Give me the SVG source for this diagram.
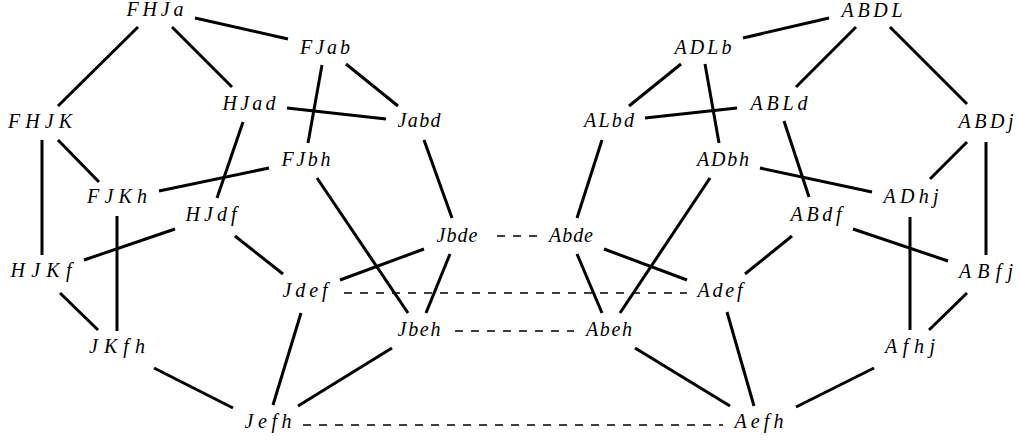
<svg xmlns="http://www.w3.org/2000/svg" width="1020" height="440" viewBox="0 0 1020 440">
<style>
text{font-family:"Liberation Serif","DejaVu Serif",serif;font-style:italic;font-size:20px;fill:#000;text-anchor:middle}
.e{stroke:#000;stroke-width:3;fill:none;stroke-linecap:butt}
.d{stroke:#000;stroke-width:1.6;fill:none;stroke-dasharray:8 8}
</style>
<rect width="1020" height="440" fill="#fff"/>
<g id="connectors">
<line class="e" x1="195" y1="18" x2="288" y2="39"/>
<line class="e" x1="138" y1="27" x2="58" y2="106"/>
<line class="e" x1="172" y1="27" x2="232" y2="87"/>
<line class="e" x1="322" y1="65" x2="308" y2="143"/>
<line class="e" x1="346" y1="64" x2="398" y2="106"/>
<line class="e" x1="287" y1="108" x2="386" y2="119"/>
<line class="e" x1="243" y1="122" x2="217" y2="198"/>
<line class="e" x1="58" y1="140" x2="99" y2="182"/>
<line class="e" x1="42" y1="140" x2="42" y2="255"/>
<line class="e" x1="159" y1="191" x2="269" y2="168"/>
<line class="e" x1="117" y1="216" x2="117" y2="331"/>
<line class="e" x1="175" y1="229" x2="84" y2="260"/>
<line class="e" x1="235" y1="236" x2="283" y2="274"/>
<line class="e" x1="60" y1="293" x2="98" y2="330"/>
<line class="e" x1="154" y1="368" x2="233" y2="408"/>
<line class="e" x1="301" y1="313" x2="273" y2="405"/>
<line class="e" x1="298" y1="406" x2="392" y2="348"/>
<line class="e" x1="317" y1="178" x2="408" y2="313"/>
<line class="e" x1="424" y1="140" x2="452" y2="218"/>
<line class="e" x1="424" y1="249" x2="340" y2="280"/>
<line class="e" x1="450" y1="254" x2="426" y2="313"/>
<line class="d" x1="497" y1="236" x2="537" y2="236"/>
<line class="d" x1="344" y1="293" x2="687" y2="293"/>
<line class="d" x1="455" y1="331" x2="574" y2="331"/>
<line class="d" x1="303" y1="425" x2="723" y2="425"/>
<line class="e" x1="829" y1="18" x2="743" y2="38"/>
<line class="e" x1="856" y1="27" x2="796" y2="87"/>
<line class="e" x1="890" y1="27" x2="967" y2="104"/>
<line class="e" x1="681" y1="64" x2="629" y2="106"/>
<line class="e" x1="705" y1="64" x2="719" y2="143"/>
<line class="e" x1="645" y1="118" x2="737" y2="108"/>
<line class="e" x1="784" y1="121" x2="809" y2="197"/>
<line class="e" x1="760" y1="168" x2="872" y2="192"/>
<line class="e" x1="967" y1="142" x2="930" y2="179"/>
<line class="e" x1="986" y1="142" x2="986" y2="255"/>
<line class="e" x1="602" y1="140" x2="577" y2="218"/>
<line class="e" x1="710" y1="178" x2="620" y2="313"/>
<line class="e" x1="604" y1="249" x2="687" y2="280"/>
<line class="e" x1="577" y1="254" x2="602" y2="313"/>
<line class="e" x1="792" y1="236" x2="745" y2="274"/>
<line class="e" x1="853" y1="229" x2="948" y2="261"/>
<line class="e" x1="910" y1="217" x2="910" y2="330"/>
<line class="e" x1="967" y1="293" x2="929" y2="330"/>
<line class="e" x1="635" y1="348" x2="730" y2="406"/>
<line class="e" x1="727" y1="312" x2="754" y2="406"/>
<line class="e" x1="874" y1="368" x2="796" y2="407"/>
</g>
<g id="FHJa"><text x="155" y="16" textLength="57" lengthAdjust="spacing">FHJa</text></g>
<g id="FJab"><text x="325" y="54" textLength="50" lengthAdjust="spacing">FJab</text></g>
<g id="HJad"><text x="249" y="110" textLength="53" lengthAdjust="spacing">HJad</text></g>
<g id="Jabd"><text x="419" y="127" textLength="43" lengthAdjust="spacing">Jabd</text></g>
<g id="FHJK"><text x="40" y="128" textLength="64" lengthAdjust="spacing">FHJK</text></g>
<g id="FJbh"><text x="306" y="166" textLength="49" lengthAdjust="spacing">FJbh</text></g>
<g id="FJKh"><text x="117" y="203" textLength="60" lengthAdjust="spacing">FJKh</text></g>
<g id="HJdf"><text x="211" y="221" textLength="51" lengthAdjust="spacing">HJdf</text></g>
<g id="Jbde"><text x="457" y="242" textLength="41" lengthAdjust="spacing">Jbde</text></g>
<g id="HJKf"><text x="41" y="277" textLength="61" lengthAdjust="spacing">HJKf</text></g>
<g id="Jdef"><text x="305" y="297" textLength="45" lengthAdjust="spacing">Jdef</text></g>
<g id="JKfh"><text x="117" y="353" textLength="56" lengthAdjust="spacing">JKfh</text></g>
<g id="Jbeh"><text x="419" y="336" textLength="43" lengthAdjust="spacing">Jbeh</text></g>
<g id="Jefh"><text x="268" y="428" textLength="47" lengthAdjust="spacing">Jefh</text></g>
<g id="ABDL"><text x="872" y="17" textLength="61" lengthAdjust="spacing">ABDL</text></g>
<g id="ADLb"><text x="703" y="54" textLength="57" lengthAdjust="spacing">ADLb</text></g>
<g id="ABLd"><text x="779" y="110" textLength="57" lengthAdjust="spacing">ABLd</text></g>
<g id="ALbd"><text x="609" y="127" textLength="50" lengthAdjust="spacing">ALbd</text></g>
<g id="ABDj"><text x="986" y="128" textLength="55" lengthAdjust="spacing">ABDj</text></g>
<g id="ADbh"><text x="723" y="166" textLength="52" lengthAdjust="spacing">ADbh</text></g>
<g id="ADhj"><text x="911" y="203" textLength="55" lengthAdjust="spacing">ADhj</text></g>
<g id="ABdf"><text x="816" y="221" textLength="51" lengthAdjust="spacing">ABdf</text></g>
<g id="Abde"><text x="571" y="242" textLength="44" lengthAdjust="spacing">Abde</text></g>
<g id="ABfj"><text x="986" y="278" textLength="54" lengthAdjust="spacing">ABfj</text></g>
<g id="Adef"><text x="720" y="297" textLength="45" lengthAdjust="spacing">Adef</text></g>
<g id="Abeh"><text x="609" y="336" textLength="46" lengthAdjust="spacing">Abeh</text></g>
<g id="Afhj"><text x="910" y="353" textLength="50" lengthAdjust="spacing">Afhj</text></g>
<g id="Aefh"><text x="759" y="428" textLength="49" lengthAdjust="spacing">Aefh</text></g>
</svg>
